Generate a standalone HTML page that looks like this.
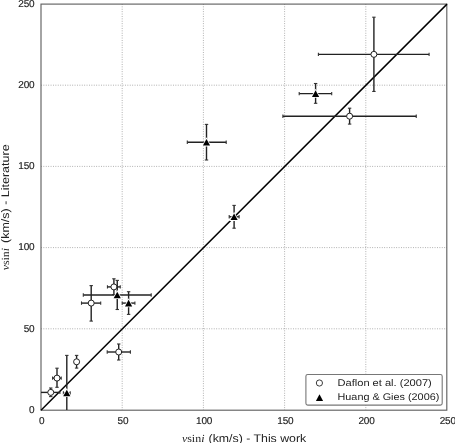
<!DOCTYPE html>
<html><head><meta charset="utf-8"><style>
html,body{margin:0;padding:0;background:#fff;}
svg{display:block;will-change:transform;}
text{font-family:"Liberation Sans",sans-serif;fill:#222;text-rendering:geometricPrecision;}
text.m{font-family:"Liberation Serif",serif;}
line.c{stroke-width:1.1;stroke:#333;}
</style></head><body>
<svg width="455" height="443" viewBox="0 0 455 443">
<rect width="455" height="443" fill="#fff"/>
<g stroke="#a0a0a0" stroke-width="0.9" stroke-dasharray="0.9 1.5">
<line x1="122.20" y1="4" x2="122.20" y2="410"/>
<line x1="41" y1="328.80" x2="447" y2="328.80"/>
<line x1="203.40" y1="4" x2="203.40" y2="410"/>
<line x1="41" y1="247.60" x2="447" y2="247.60"/>
<line x1="284.60" y1="4" x2="284.60" y2="410"/>
<line x1="41" y1="166.40" x2="447" y2="166.40"/>
<line x1="365.80" y1="4" x2="365.80" y2="410"/>
<line x1="41" y1="85.20" x2="447" y2="85.20"/>
</g>
<rect x="41.0" y="4.1" width="405.8" height="406.1" fill="none" stroke="#626262" stroke-width="1.15"/>
<line x1="41" y1="410.2" x2="447" y2="4.1" stroke="#000" stroke-width="1.5"/>
<g stroke="#222" stroke-width="1.4" fill="none">
<line x1="41.0" y1="392.4" x2="59.9" y2="392.4"/>
<line x1="59.9" y1="390.70" x2="59.9" y2="394.10" class="c"/>
<line x1="50.75" y1="388.0" x2="50.75" y2="396.6"/>
<line x1="49.05" y1="388.0" x2="52.45" y2="388.0" class="c"/>
<line x1="49.05" y1="396.6" x2="52.45" y2="396.6" class="c"/>
<line x1="52.6" y1="378.1" x2="61.2" y2="378.1"/>
<line x1="52.6" y1="376.40" x2="52.6" y2="379.80" class="c"/>
<line x1="61.2" y1="376.40" x2="61.2" y2="379.80" class="c"/>
<line x1="57.0" y1="368.2" x2="57.0" y2="387.3"/>
<line x1="55.30" y1="368.2" x2="58.70" y2="368.2" class="c"/>
<line x1="55.30" y1="387.3" x2="58.70" y2="387.3" class="c"/>
<line x1="76.6" y1="355.4" x2="76.6" y2="368.1"/>
<line x1="74.90" y1="355.4" x2="78.30" y2="355.4" class="c"/>
<line x1="74.90" y1="368.1" x2="78.30" y2="368.1" class="c"/>
<line x1="81.5" y1="303.1" x2="100.7" y2="303.1"/>
<line x1="81.5" y1="301.40" x2="81.5" y2="304.80" class="c"/>
<line x1="100.7" y1="301.40" x2="100.7" y2="304.80" class="c"/>
<line x1="91.2" y1="285.6" x2="91.2" y2="321.1"/>
<line x1="89.50" y1="285.6" x2="92.90" y2="285.6" class="c"/>
<line x1="89.50" y1="321.1" x2="92.90" y2="321.1" class="c"/>
<line x1="107.45" y1="286.9" x2="120.25" y2="286.9"/>
<line x1="107.45" y1="285.20" x2="107.45" y2="288.60" class="c"/>
<line x1="120.25" y1="285.20" x2="120.25" y2="288.60" class="c"/>
<line x1="113.9" y1="278.8" x2="113.9" y2="294.6"/>
<line x1="112.20" y1="278.8" x2="115.60" y2="278.8" class="c"/>
<line x1="112.20" y1="294.6" x2="115.60" y2="294.6" class="c"/>
<line x1="107.2" y1="352.0" x2="130.4" y2="352.0"/>
<line x1="107.2" y1="350.30" x2="107.2" y2="353.70" class="c"/>
<line x1="130.4" y1="350.30" x2="130.4" y2="353.70" class="c"/>
<line x1="118.7" y1="344.0" x2="118.7" y2="360.0"/>
<line x1="117.00" y1="344.0" x2="120.40" y2="344.0" class="c"/>
<line x1="117.00" y1="360.0" x2="120.40" y2="360.0" class="c"/>
<line x1="282.9" y1="116.2" x2="416.25" y2="116.2"/>
<line x1="282.9" y1="114.50" x2="282.9" y2="117.90" class="c"/>
<line x1="416.25" y1="114.50" x2="416.25" y2="117.90" class="c"/>
<line x1="349.6" y1="108.2" x2="349.6" y2="124.1"/>
<line x1="347.90" y1="108.2" x2="351.30" y2="108.2" class="c"/>
<line x1="347.90" y1="124.1" x2="351.30" y2="124.1" class="c"/>
<line x1="318.4" y1="54.35" x2="429.1" y2="54.35"/>
<line x1="318.4" y1="52.65" x2="318.4" y2="56.05" class="c"/>
<line x1="429.1" y1="52.65" x2="429.1" y2="56.05" class="c"/>
<line x1="373.9" y1="17.2" x2="373.9" y2="91.45"/>
<line x1="372.20" y1="17.2" x2="375.60" y2="17.2" class="c"/>
<line x1="372.20" y1="91.45" x2="375.60" y2="91.45" class="c"/>
<line x1="63.4" y1="393.0" x2="70.2" y2="393.0"/>
<line x1="63.4" y1="391.30" x2="63.4" y2="394.70" class="c"/>
<line x1="70.2" y1="391.30" x2="70.2" y2="394.70" class="c"/>
<line x1="66.8" y1="355.4" x2="66.8" y2="410.0"/>
<line x1="65.10" y1="355.4" x2="68.50" y2="355.4" class="c"/>
<line x1="83.3" y1="295.0" x2="151.2" y2="295.0"/>
<line x1="83.3" y1="293.30" x2="83.3" y2="296.70" class="c"/>
<line x1="151.2" y1="293.30" x2="151.2" y2="296.70" class="c"/>
<line x1="117.25" y1="280.4" x2="117.25" y2="309.5"/>
<line x1="115.55" y1="280.4" x2="118.95" y2="280.4" class="c"/>
<line x1="115.55" y1="309.5" x2="118.95" y2="309.5" class="c"/>
<line x1="122.2" y1="303.1" x2="134.9" y2="303.1"/>
<line x1="122.2" y1="301.40" x2="122.2" y2="304.80" class="c"/>
<line x1="134.9" y1="301.40" x2="134.9" y2="304.80" class="c"/>
<line x1="128.6" y1="291.7" x2="128.6" y2="314.4"/>
<line x1="126.90" y1="291.7" x2="130.30" y2="291.7" class="c"/>
<line x1="126.90" y1="314.4" x2="130.30" y2="314.4" class="c"/>
<line x1="187.3" y1="142.3" x2="226.2" y2="142.3"/>
<line x1="187.3" y1="140.60" x2="187.3" y2="144.00" class="c"/>
<line x1="226.2" y1="140.60" x2="226.2" y2="144.00" class="c"/>
<line x1="206.5" y1="124.4" x2="206.5" y2="160.0"/>
<line x1="204.80" y1="124.4" x2="208.20" y2="124.4" class="c"/>
<line x1="204.80" y1="160.0" x2="208.20" y2="160.0" class="c"/>
<line x1="229.2" y1="216.8" x2="239.1" y2="216.8"/>
<line x1="229.2" y1="215.10" x2="229.2" y2="218.50" class="c"/>
<line x1="239.1" y1="215.10" x2="239.1" y2="218.50" class="c"/>
<line x1="234.1" y1="205.4" x2="234.1" y2="228.2"/>
<line x1="232.40" y1="205.4" x2="235.80" y2="205.4" class="c"/>
<line x1="232.40" y1="228.2" x2="235.80" y2="228.2" class="c"/>
<line x1="299.2" y1="93.6" x2="331.7" y2="93.6"/>
<line x1="299.2" y1="91.90" x2="299.2" y2="95.30" class="c"/>
<line x1="331.7" y1="91.90" x2="331.7" y2="95.30" class="c"/>
<line x1="315.6" y1="83.5" x2="315.6" y2="103.3"/>
<line x1="313.90" y1="83.5" x2="317.30" y2="83.5" class="c"/>
<line x1="313.90" y1="103.3" x2="317.30" y2="103.3" class="c"/>
</g>
<g fill="#fff" stroke="#222" stroke-width="1.0">
<circle cx="50.75" cy="392.4" r="3.0"/>
<circle cx="57.0" cy="378.1" r="3.0"/>
<circle cx="76.6" cy="361.8" r="3.0"/>
<circle cx="91.2" cy="303.1" r="3.0"/>
<circle cx="113.9" cy="286.9" r="3.0"/>
<circle cx="118.7" cy="352.0" r="3.0"/>
<circle cx="349.6" cy="116.2" r="3.0"/>
<circle cx="373.9" cy="54.35" r="3.0"/>
</g>
<g fill="#000" stroke="#fff" stroke-width="1.6" paint-order="stroke">
<path d="M66.80,389.70 L70.40,396.30 L63.20,396.30 Z"/>
<path d="M117.25,291.70 L120.85,298.30 L113.65,298.30 Z"/>
<path d="M128.60,299.80 L132.20,306.40 L125.00,306.40 Z"/>
<path d="M206.50,139.00 L210.10,145.60 L202.90,145.60 Z"/>
<path d="M234.10,213.50 L237.70,220.10 L230.50,220.10 Z"/>
<path d="M315.60,90.30 L319.20,96.90 L312.00,96.90 Z"/>
</g>
<g font-size="10.0" letter-spacing="-0.15" stroke="#222" stroke-width="0.15">
<text x="41.75" y="424.2" text-anchor="middle">0</text>
<text x="122.95" y="424.2" text-anchor="middle">50</text>
<text x="204.15" y="424.2" text-anchor="middle">100</text>
<text x="285.35" y="424.2" text-anchor="middle">150</text>
<text x="366.55" y="424.2" text-anchor="middle">200</text>
<text x="447.75" y="424.2" text-anchor="middle">250</text>
<text x="34.5" y="412.75" text-anchor="end">0</text>
<text x="34.5" y="331.55" text-anchor="end">50</text>
<text x="34.5" y="250.35" text-anchor="end">100</text>
<text x="34.5" y="169.15" text-anchor="end">150</text>
<text x="34.5" y="87.95" text-anchor="end">200</text>
<text x="34.5" y="6.75" text-anchor="end">250</text>
</g>
<rect x="305.9" y="374.5" width="136.3" height="30.6" rx="1.8" fill="#fff" stroke="#777" stroke-width="1.1"/>
<circle cx="319.4" cy="383" r="3.1" fill="#fff" stroke="#333" stroke-width="0.95"/>
<path d="M319.5,394.2 L323.1,401.0 L315.9,401.0 Z" fill="#000"/>
<g font-size="9.7">
<text x="337.5" y="385.7" textLength="94.3" lengthAdjust="spacingAndGlyphs">Daflon et al. (2007)</text>
<text x="337.5" y="399.8" textLength="101.8" lengthAdjust="spacingAndGlyphs">Huang &amp; Gies (2006)</text>
</g>
<text x="181.9" y="441.5" font-size="11" class="m" textLength="22.6" lengthAdjust="spacingAndGlyphs"><tspan font-style="italic">v</tspan>sin<tspan font-style="italic">i</tspan></text>
<text x="208.6" y="441.5" font-size="11" textLength="97.6" lengthAdjust="spacingAndGlyphs">(km/s) - This work</text>
<g transform="translate(9.0,0) rotate(-90)"><text x="-270.3" y="0" font-size="11" class="m" textLength="22.4" lengthAdjust="spacingAndGlyphs"><tspan font-style="italic">v</tspan>sin<tspan font-style="italic">i</tspan></text>
<text x="-243.0" y="0" font-size="11" textLength="98.6" lengthAdjust="spacingAndGlyphs">(km/s) - Literature</text></g>
</svg>
</body></html>
